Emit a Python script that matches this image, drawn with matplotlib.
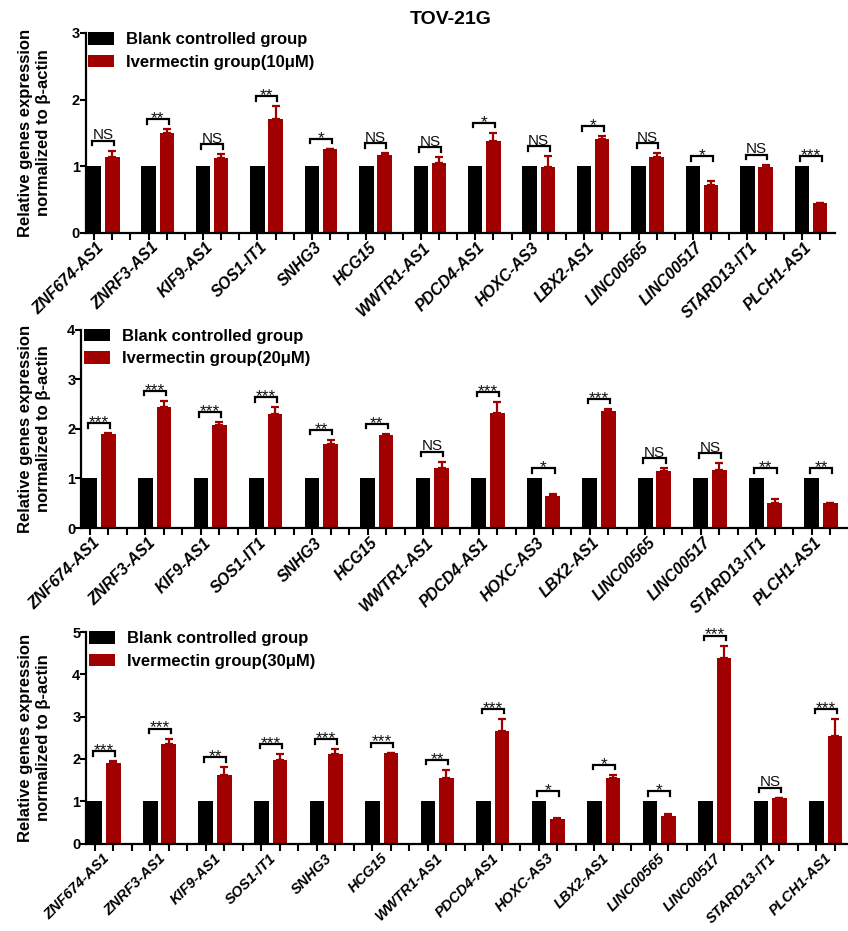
import matplotlib
matplotlib.use("Agg")
import matplotlib.pyplot as plt
from matplotlib.patches import Patch

plt.rcParams['font.family'] = ['Liberation Sans', 'DejaVu Sans']

# Genes measured in TOV-21G cells
genes = ["ZNF674-AS1", "ZNRF3-AS1", "KIF9-AS1", "SOS1-IT1", "SNHG3", "HCG15",
         "WWTR1-AS1", "PDCD4-AS1", "HOXC-AS3", "LBX2-AS1", "LINC00565",
         "LINC00517", "STARD13-IT1", "PLCH1-AS1"]

# Blank controlled group is the reference level
blank = [1.0, 1.0, 1.0, 1.0, 1.0, 1.0, 1.0, 1.0, 1.0, 1.0, 1.0, 1.0, 1.0, 1.0]

# Ivermectin 10 uM
ive10 = [1.14, 1.50, 1.12, 1.71, 1.25, 1.16, 1.04, 1.38, 0.99, 1.40, 1.14, 0.72, 0.99, 0.45]
err10 = [0.09, 0.05, 0.06, 0.19, 0.01, 0.03, 0.09, 0.12, 0.16, 0.05, 0.05, 0.05, 0.03, 0.00]
sig10 = ["NS", "**", "NS", "**", "*", "NS", "NS", "*", "NS", "*", "NS", "*", "NS", "***"]

# Ivermectin 20 uM
ive20 = [1.89, 2.44, 2.07, 2.29, 1.69, 1.87, 1.21, 2.31, 0.64, 2.35, 1.14, 1.16, 0.50, 0.50]
err20 = [0.02, 0.12, 0.06, 0.14, 0.09, 0.03, 0.12, 0.23, 0.05, 0.05, 0.06, 0.14, 0.09, 0.00]
sig20 = ["***", "***", "***", "***", "**", "**", "NS", "***", "*", "***", "NS", "NS", "**", "**"]

# Ivermectin 30 uM
ive30 = [1.90, 2.35, 1.62, 1.97, 2.11, 2.13, 1.54, 2.65, 0.59, 1.56, 0.65, 4.38, 1.07, 2.54]
err30 = [0.04, 0.13, 0.18, 0.15, 0.12, 0.02, 0.20, 0.30, 0.02, 0.06, 0.05, 0.30, 0.01, 0.41]
sig30 = ["***", "***", "**", "***", "***", "***", "**", "***", "*", "*", "*", "***", "NS", "***"]

doses = ["10μM", "20μM", "30μM"]
y_max = [3, 4, 5]

W, H = 848, 931
fig = plt.figure(figsize=(W / 100, H / 100), dpi=100)

RED = "#a00000"
BLACK = "#000000"

# axes frames in pixels: left, right, top, bottom, x upper limit
frames = [(85.5, 835, 33, 232.5, 40.83),
          (81, 847, 329.5, 528, 40.9),
          (86, 847, 632, 843.5, 40.65)]
# gene label style per panel: font size, anchor offset within group, pad
label_style = [(11.5, 0.42, 9), (11.5, 0.42, 9), (10.5, 0.7, 9)]

panels = [(ive10, err10, sig10), (ive20, err20, sig20), (ive30, err30, sig30)]

for k, ((l, r, t, b, xr), (ive, err, sig)) in enumerate(zip(frames, panels)):
    ax = fig.add_axes([l / W, 1 - b / H, (r - l) / W, (b - t) / H])
    n = len(genes)
    xb = [3 * i for i in range(n)]
    xr_ = [3 * i + 1 for i in range(n)]
    ax.bar(xb, blank, width=0.8, color=BLACK, zorder=2)
    ax.bar(xr_, ive, width=0.8, color=RED, zorder=2)
    ax.errorbar(xr_, ive, yerr=[[0] * n, err], fmt='none', ecolor=RED,
                elinewidth=1.6, capsize=2.6, capthick=1.6, zorder=1)

    ymax = y_max[k]
    ax.set_xlim(-0.48, xr)
    ax.set_ylim(0, ymax)
    hpx = b - t
    dpx = ymax / hpx  # data units per pixel

    # significance brackets
    for i in range(n):
        top = max(blank[i], ive[i] + err[i])
        yb = top + 10 * dpx
        x0, x1 = 3 * i - 0.1, 3 * i + 1.1
        ax.plot([x0, x0, x1, x1], [yb - 4.5 * dpx, yb, yb, yb - 4.5 * dpx],
                color=BLACK, lw=1.6, solid_joinstyle='miter', clip_on=False)
        if sig[i] == "NS":
            ax.text(3 * i + 0.5, yb + 1.5 * dpx, sig[i], ha='center', va='baseline',
                    fontsize=11, color='#111111')
        else:
            ax.text(3 * i + 0.5, yb - 4.0 * dpx, sig[i], ha='center', va='baseline',
                    fontsize=12.5, color='#111111')

    for s in ['top', 'right']:
        ax.spines[s].set_visible(False)
    for s in ['left', 'bottom']:
        ax.spines[s].set_linewidth(1.6)

    ax.set_yticks(range(ymax + 1))
    ax.set_yticklabels([str(v) for v in range(ymax + 1)], fontsize=10.5,
                       fontweight='bold')
    ax.tick_params(axis='y', length=4, width=1.5, pad=0)

    fs, off, pad = label_style[k]
    ax.set_xticks(range(3 * n - 1))
    ax.set_xticklabels([])
    ax.tick_params(axis='x', which='major', length=5, width=1.5)
    ax.set_xticks([3 * i + off for i in range(n)], minor=True)
    ax.set_xticklabels(genes, minor=True, rotation=45, ha='right', va='center',
                       rotation_mode='anchor', fontsize=fs, fontweight='bold',
                       fontstyle='italic')
    ax.tick_params(axis='x', which='minor', length=0, pad=pad)

    handles = [Patch(facecolor=BLACK, label="Blank controlled group"),
               Patch(facecolor=RED, label="Ivermectin group(%s)" % doses[k])]
    ax.legend(handles=handles, loc='upper left', bbox_to_anchor=(0.004, 1.005),
              frameon=False, borderpad=0, borderaxespad=0, handlelength=1.55,
              handleheight=0.8, handletextpad=0.7, labelspacing=0.45,
              prop={'size': 12, 'weight': 'bold'})

    fig.text(35 / W, 1 - ((t + b) / 2) / H,
             "Relative genes expression\nnormalized to β-actin",
             rotation=90, ha='center', va='center', fontsize=12, fontweight='bold',
             multialignment='center', linespacing=1.25)

fig.text(451 / W, 1 - 20 / H, "TOV-21G", ha='center', va='center', fontsize=14,
         fontweight='bold')

fig.savefig("out.png", dpi=100)
